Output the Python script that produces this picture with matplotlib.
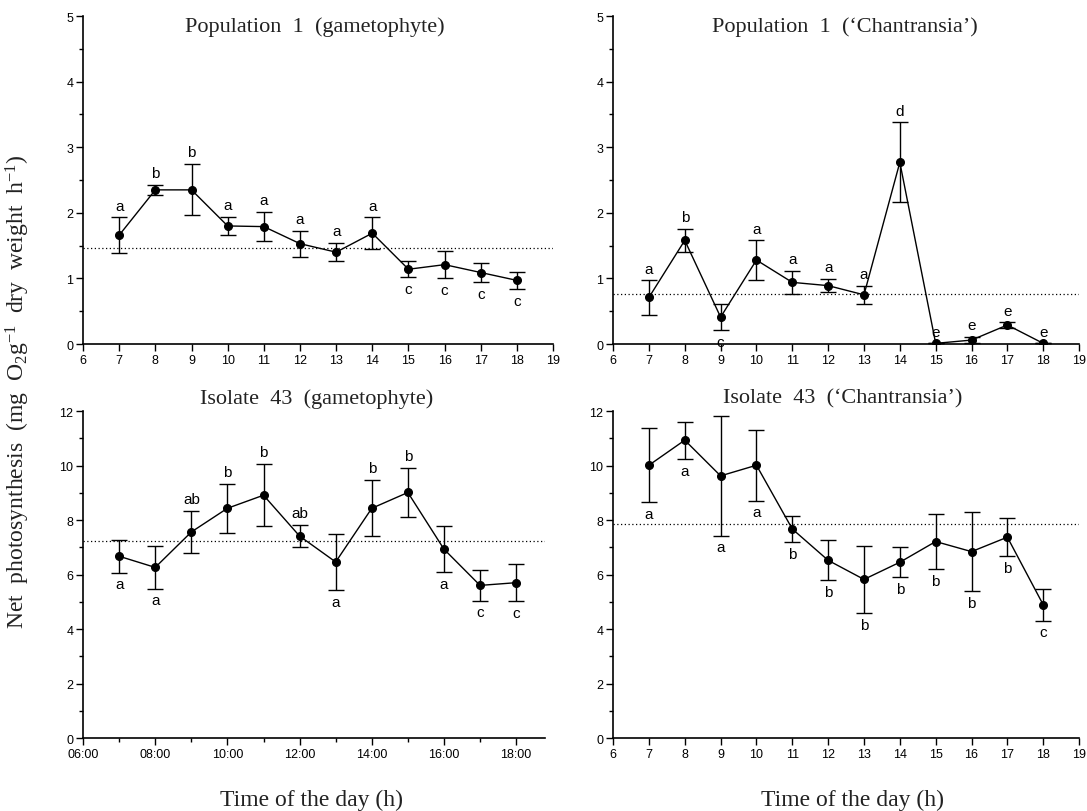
import matplotlib
matplotlib.use("Agg")
import matplotlib.pyplot as plt
from matplotlib.ticker import MultipleLocator, FixedLocator

plt.rcParams["mathtext.fontset"] = "custom"
plt.rcParams["mathtext.rm"] = "Liberation Serif"
plt.rcParams["mathtext.it"] = "Liberation Serif"
plt.rcParams["mathtext.default"] = "regular"

hours = [7, 8, 9, 10, 11, 12, 13, 14, 15, 16, 17, 18]

# Population 1 (gametophyte)
pop_gam = [1.66, 2.35, 2.35, 1.80, 1.79, 1.53, 1.40, 1.69, 1.14, 1.21, 1.09, 0.97]
pop_gam_err = [0.27, 0.08, 0.39, 0.14, 0.22, 0.20, 0.14, 0.24, 0.12, 0.21, 0.14, 0.13]
pop_gam_let = ["a", "b", "b", "a", "a", "a", "a", "a", "c", "c", "c", "c"]
pop_gam_side = [1, 1, 1, 1, 1, 1, 1, 1, -1, -1, -1, -1]
pop_gam_mean = 1.46

# Population 1 ('Chantransia')
pop_cha = [0.71, 1.58, 0.41, 1.28, 0.94, 0.89, 0.75, 2.77, 0.01, 0.06, 0.29, 0.01]
pop_cha_err = [0.26, 0.18, 0.20, 0.30, 0.18, 0.10, 0.14, 0.61, 0.0, 0.05, 0.04, 0.0]
pop_cha_let = ["a", "b", "c", "a", "a", "a", "a", "d", "e", "e", "e", "e"]
pop_cha_side = [1, 1, -1, 1, 1, 1, 1, 1, 1, 1, 1, 1]
pop_cha_mean = 0.76

# Isolate 43 (gametophyte)
iso_gam = [6.67, 6.26, 7.56, 8.43, 8.91, 7.41, 6.46, 8.43, 9.01, 6.93, 5.60, 5.70]
iso_gam_err = [0.60, 0.78, 0.78, 0.90, 1.14, 0.40, 1.04, 1.03, 0.90, 0.85, 0.56, 0.69]
iso_gam_let = ["a", "a", "ab", "b", "b", "ab", "a", "b", "b", "a", "c", "c"]
iso_gam_side = [-1, -1, 1, 1, 1, 1, -1, 1, 1, -1, -1, -1]
iso_gam_mean = 7.23

# Isolate 43 ('Chantransia')
iso_cha = [10.01, 10.93, 9.62, 10.01, 7.67, 6.52, 5.82, 6.45, 7.21, 6.84, 7.37, 4.89]
iso_cha_err = [1.35, 0.68, 2.19, 1.30, 0.47, 0.73, 1.23, 0.55, 1.00, 1.45, 0.70, 0.58]
iso_cha_let = ["a", "a", "a", "a", "b", "b", "b", "b", "b", "b", "b", "c"]
iso_cha_side = [-1, -1, -1, -1, -1, -1, -1, -1, -1, -1, -1, -1]
iso_cha_mean = 7.87

clock_ticks = [6, 8, 10, 12, 14, 16, 18]
clock_labels = ["06:00", "08:00", "10:00", "12:00", "14:00", "16:00", "18:00"]

serif = "Liberation Serif"
sans = "Liberation Sans"

fig = plt.figure(figsize=(10.87, 8.12), dpi=100, facecolor="white")


def panel(rect, y, err, letters, side, mean, ymax, ystep, xmax):
    ax = fig.add_axes(rect)
    ax.errorbar(hours, y, yerr=err, color="black", lw=1.0, elinewidth=1.0,
                capsize=5.5, capthick=1.0, marker="o", ms=5.5, mfc="black",
                mec="black", zorder=3)
    ax.axhline(mean, color="black", lw=0.9, ls=(0, (1, 2)), zorder=1)
    for h, v, e, t, s in zip(hours, y, err, letters, side):
        yy = v + e if s > 0 else v - e
        ax.annotate(t, (h, yy), xytext=(0, 8.5 * s), textcoords="offset points",
                    ha="center", va="center", fontsize=11, family=sans)
    ax.set_ylim(0, ymax)
    ax.set_xlim(6, xmax)
    ax.yaxis.set_major_locator(MultipleLocator(ystep))
    ax.yaxis.set_minor_locator(MultipleLocator(ystep / 2))
    for side_name in ("top", "right"):
        ax.spines[side_name].set_visible(False)
    ax.spines["left"].set_linewidth(1.2)
    ax.spines["bottom"].set_linewidth(1.2)
    ax.tick_params(which="major", direction="out", length=5, width=1,
                   labelsize=9, pad=2)
    ax.tick_params(which="minor", direction="out", length=3, width=1)
    return ax


ax1 = panel([0.0764, 0.5751, 0.4324, 0.4039], pop_gam, pop_gam_err,
            pop_gam_let, pop_gam_side, pop_gam_mean, 5, 1, 19)
ax1.xaxis.set_major_locator(MultipleLocator(1))

ax2 = panel([0.5640, 0.5751, 0.4287, 0.4039], pop_cha, pop_cha_err,
            pop_cha_let, pop_cha_side, pop_cha_mean, 5, 1, 19)
ax2.xaxis.set_major_locator(MultipleLocator(1))

ax3 = panel([0.0764, 0.0899, 0.4250, 0.4027], iso_gam, iso_gam_err,
            iso_gam_let, iso_gam_side, iso_gam_mean, 12, 2, 18.8)
ax3.xaxis.set_major_locator(FixedLocator(clock_ticks))
ax3.xaxis.set_minor_locator(MultipleLocator(1))
ax3.set_xticklabels(clock_labels)

ax4 = panel([0.5640, 0.0899, 0.4287, 0.4027], iso_cha, iso_cha_err,
            iso_cha_let, iso_cha_side, iso_cha_mean, 12, 2, 19)
ax4.xaxis.set_major_locator(MultipleLocator(1))

for ax in (ax1, ax2, ax3, ax4):
    for lab in ax.get_xticklabels() + ax.get_yticklabels():
        lab.set_family(sans)
        lab.set_fontsize(9)

title_kw = dict(ha="center", va="center", fontsize=16, family=serif,
                color="#222222")
fig.text(0.290, 0.9667, "Population  1  (gametophyte)", **title_kw)
fig.text(0.777, 0.9667, "Population  1  (\u2018Chantransia\u2019)", **title_kw)
fig.text(0.2916, 0.5086, "Isolate  43  (gametophyte)", **title_kw)
fig.text(0.7756, 0.5086, "Isolate  43  (\u2018Chantransia\u2019)", **title_kw)

fig.text(0.0166, 0.517,
         "Net  photosynthesis  (mg  O$_2$g$^{-1}$  dry  weight  h$^{-1}$)",
         rotation=90, ha="center", va="center", fontsize=17, family=serif,
         color="#222222")
fig.text(0.287, 0.0148, "Time of the day (h)", ha="center", va="center",
         fontsize=17, family=serif, color="#222222")
fig.text(0.784, 0.0148, "Time of the day (h)", ha="center", va="center",
         fontsize=17, family=serif, color="#222222")

fig.savefig("out.png", dpi=100, facecolor="white")
